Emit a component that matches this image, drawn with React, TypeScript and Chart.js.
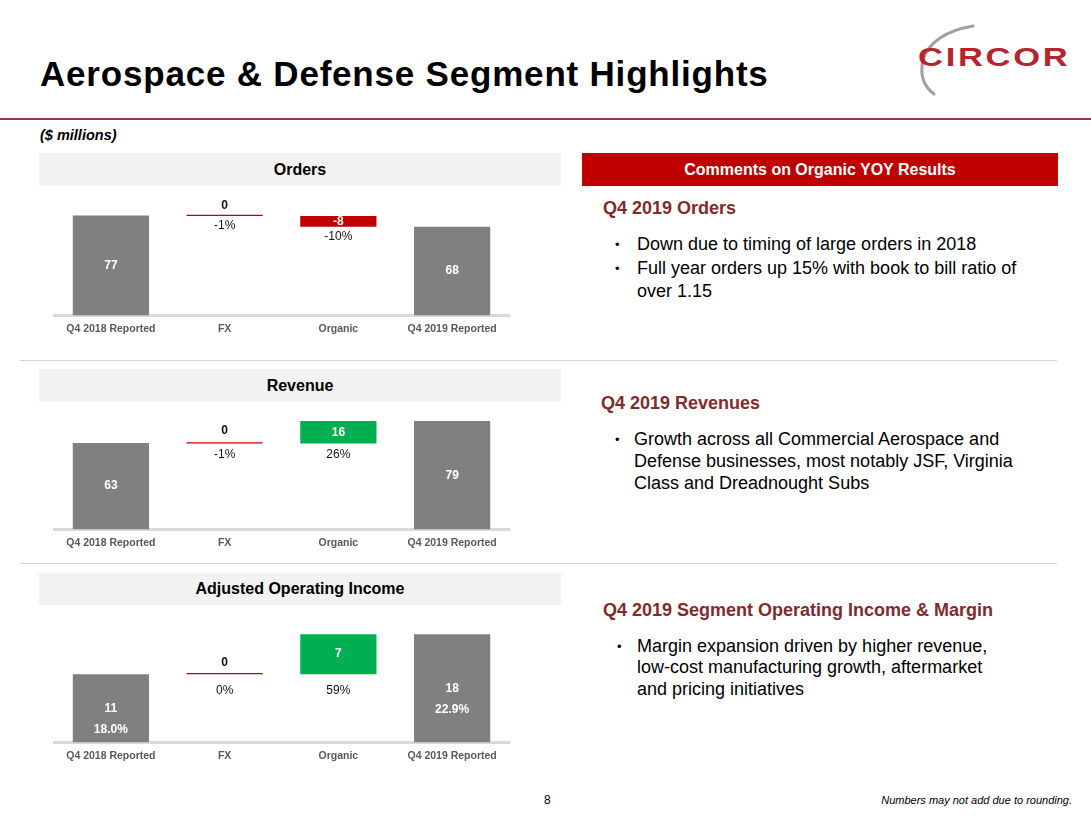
import React, { useEffect, useRef } from "react";
import { Chart, registerables } from "chart.js";

Chart.register(...registerables);

// ---------- data ----------
const categories = ["Q4 2018 Reported", "FX", "Organic", "Q4 2019 Reported"];
const stepKinds = ["total", "delta", "delta", "total"];

const ordersValues = [77.2, -0.5, -8.2, 68.5];
const ordersLabels = ["77", "0", "-8", "68"];
const ordersPct = ["", "-1%", "-10%", ""];

const revenueValues = [63.0, -0.4, 16.3, 78.9];
const revenueLabels = ["63", "0", "16", "79"];
const revenuePct = ["", "-1%", "26%", ""];

const aoiValues = [11.4, 0.0, 6.7, 18.1];
const aoiLabels = ["11", "0", "7", "18"];
const aoiPct = ["18.0%", "0%", "59%", "22.9%"];

const FONT = '"Liberation Sans", Arial, Helvetica, sans-serif';
Chart.defaults.font.family = FONT;

const labelPlugin = {
  id: "wfLabels",
  afterDatasetsDraw(chart: any, _args: any, opts: any) {
    const { ctx } = chart;
    const meta = chart.getDatasetMeta(0);
    ctx.save();
    ctx.textAlign = "center";
    ctx.textBaseline = "middle";
    meta.data.forEach((el: any, i: number) => {
      const p = el.getProps(["x", "y", "base"], true);
      const top = Math.min(p.y, p.base);
      const bottom = Math.max(p.y, p.base);
      const h = bottom - top;
      const lab = opts.labels[i];
      const pct = opts.pcts[i];
      if (stepKinds[i] === "total") {
        const c = (top + bottom) / 2;
        ctx.fillStyle = "#ffffff";
        ctx.font = `bold 12px ${FONT}`;
        ctx.fillText(lab, p.x, c);
        if (pct) ctx.fillText(pct, p.x, c + 21);
      } else if (h > 6) {
        ctx.fillStyle = "#ffffff";
        ctx.font = `bold 12px ${FONT}`;
        ctx.fillText(lab, p.x, (top + bottom) / 2);
        ctx.fillStyle = "#111111";
        ctx.font = `12px ${FONT}`;
        if (pct) ctx.fillText(pct, p.x, bottom + opts.pctGap);
      } else {
        ctx.fillStyle = "#111111";
        ctx.font = `bold 12px ${FONT}`;
        ctx.fillText(lab, p.x, top - opts.aboveGap);
        ctx.font = `12px ${FONT}`;
        if (pct) ctx.fillText(pct, p.x, bottom + opts.pctGap);
      }
    });
    ctx.restore();
  },
};

type WFProps = {
  values: number[];
  labels: string[];
  pcts: string[];
  yMax: number;
  areaTop: number;
  areaH: number;
  pctGap: number;
  aboveGap: number;
};

function Waterfall({ values, labels, pcts, yMax, areaTop, areaH, pctGap, aboveGap }: WFProps) {
  const ref = useRef<HTMLCanvasElement>(null);
  const W = 480;
  const H = areaH + 30;
  useEffect(() => {
    let cum = 0;
    const floating = values.map((v, i) => {
      if (stepKinds[i] === "total") {
        cum = v;
        return [0, v];
      }
      const s = cum;
      cum = cum + v;
      return [s, cum];
    });
    const colors = values.map((v, i) =>
      stepKinds[i] === "total" ? "#808080" : v > 0 ? "#00B050" : "#C00000"
    );
    const chart = new Chart(ref.current!, {
      type: "bar",
      data: {
        labels: categories,
        datasets: [
          {
            data: floating as any,
            backgroundColor: colors,
            borderWidth: 0,
            barPercentage: 0.67,
            categoryPercentage: 1,
            minBarLength: 1.2,
          },
        ],
      },
      options: {
        responsive: false,
        devicePixelRatio: 1,
        animation: false,
        layout: { padding: { left: 10, right: 15, top: 0, bottom: 3 } },
        plugins: {
          legend: { display: false },
          tooltip: { enabled: false },
          wfLabels: { labels, pcts, pctGap, aboveGap },
        } as any,
        scales: {
          x: {
            grid: { display: false, drawTicks: false },
            border: { display: true, color: "#D9D9D9", width: 3 },
            ticks: {
              color: "#595959",
              padding: 7,
              font: { size: 10.5, weight: "bold", family: FONT },
            },
          },
          y: { display: false, min: 0, max: yMax },
        },
      },
      plugins: [labelPlugin],
    });
    return () => chart.destroy();
  }, []);
  return (
    <canvas
      ref={ref}
      width={W}
      height={H}
      style={{ position: "absolute", left: 44, top: areaTop, width: W, height: H }}
    />
  );
}

function T(props: {
  x: number;
  y: number;
  size: number;
  children: any;
  bold?: boolean;
  italic?: boolean;
  color?: string;
  ls?: number;
  align?: "left" | "right" | "center";
}) {
  const lh = Math.round(props.size * 1.3);
  const style: any = {
    position: "absolute",
    top: props.y - lh / 2,
    lineHeight: lh + "px",
    fontSize: props.size,
    fontWeight: props.bold ? "bold" : "normal",
    fontStyle: props.italic ? "italic" : "normal",
    color: props.color || "#000",
    whiteSpace: "nowrap",
    letterSpacing: props.ls ? props.ls + "px" : undefined,
  };
  if (props.align === "right") style.right = 1091 - props.x;
  else style.left = props.x;
  return <div style={style}>{props.children}</div>;
}

function Bar(props: { x: number; y: number; w: number; h: number; bg: string; text: string; color: string }) {
  return (
    <div
      style={{
        position: "absolute",
        left: props.x,
        top: props.y,
        width: props.w,
        height: props.h,
        background: props.bg,
        color: props.color,
        fontWeight: "bold",
        fontSize: 16,
        display: "flex",
        alignItems: "center",
        justifyContent: "center",
      }}
    >
      {props.text}
    </div>
  );
}

const HEAD = "#812B2D";

function Bullet({ x, y }: { x: number; y: number }) {
  return (
    <T x={x} y={y} size={13}>
      •
    </T>
  );
}

export default function App() {
  return (
    <div
      style={{
        position: "absolute",
        left: 0,
        top: 0,
        width: 1091,
        height: 819,
        background: "#fff",
        overflow: "hidden",
        fontFamily: FONT,
      }}
    >
      <T x={40} y={74} size={35} bold ls={0.8}>
        Aerospace &amp; Defense Segment Highlights
      </T>
      {/* logo */}
      <svg style={{ position: "absolute", left: 0, top: 0 }} width={1091} height={120}>
        <path d="M 973 26 Q 932 33 923 60 Q 918 82 934 94" fill="none" stroke="#A0A0A0" strokeWidth={3} strokeLinecap="round" />
      </svg>
      <div
        style={{
          position: "absolute",
          left: 918,
          top: 41,
          fontSize: 26,
          fontWeight: "bold",
          lineHeight: "33px",
          color: "#B5252F",
          letterSpacing: "2px",
          transform: "scaleX(1.33)",
          transformOrigin: "left center",
          whiteSpace: "nowrap",
        }}
      >
        CIRCOR
      </div>
      <div style={{ position: "absolute", left: 0, top: 118, width: 1091, height: 2, background: "#8E3B4B" }} />
      <T x={40} y={135} size={14.5} bold italic>
        ($ millions)
      </T>

      {/* left headers */}
      <Bar x={39} y={153} w={522} h={33} bg="#F2F2F2" text="Orders" color="#000" />
      <Bar x={39} y={369} w={522} h={33} bg="#F2F2F2" text="Revenue" color="#000" />
      <Bar x={39} y={573} w={522} h={32} bg="#F2F2F2" text="Adjusted Operating Income" color="#000" />
      <Bar x={582} y={153} w={476} h={33} bg="#C00000" text="Comments on Organic YOY Results" color="#fff" />

      {/* separators */}
      <div style={{ position: "absolute", left: 20, top: 360, width: 1037, height: 1, background: "#D4D4D4" }} />
      <div style={{ position: "absolute", left: 20, top: 563, width: 1037, height: 1, background: "#D4D4D4" }} />

      <Waterfall values={ordersValues} labels={ordersLabels} pcts={ordersPct} yMax={92.2} areaTop={196} areaH={119} pctGap={10} aboveGap={9} />
      <Waterfall values={revenueValues} labels={revenueLabels} pcts={revenuePct} yMax={85.5} areaTop={412} areaH={117} pctGap={11.5} aboveGap={11.5} />
      <Waterfall values={aoiValues} labels={aoiLabels} pcts={aoiPct} yMax={21.3} areaTop={615} areaH={127} pctGap={16} aboveGap={10} />

      {/* right side comments */}
      <T x={603} y={208} size={18} bold color={HEAD}>Q4 2019 Orders</T>
      <Bullet x={615} y={244} />
      <T x={637} y={244} size={18}>Down due to timing of large orders in 2018</T>
      <Bullet x={615} y={268} />
      <T x={637} y={268} size={18}>Full year orders up 15% with book to bill ratio of</T>
      <T x={637} y={291.5} size={18}>over 1.15</T>

      <T x={601} y={403} size={18} bold color={HEAD}>Q4 2019 Revenues</T>
      <Bullet x={615} y={439} />
      <T x={634} y={439} size={18}>Growth across all Commercial Aerospace and</T>
      <T x={634} y={461} size={18}>Defense businesses, most notably JSF, Virginia</T>
      <T x={634} y={483} size={18}>Class and Dreadnought Subs</T>

      <T x={603} y={610} size={18} bold color={HEAD}>Q4 2019 Segment Operating Income &amp; Margin</T>
      <Bullet x={617} y={646} />
      <T x={637} y={646} size={18}>Margin expansion driven by higher revenue,</T>
      <T x={637} y={667.5} size={18}>low-cost manufacturing growth, aftermarket</T>
      <T x={637} y={689.5} size={18}>and pricing initiatives</T>

      {/* footer */}
      <T x={544} y={800} size={12}>8</T>
      <T x={1072} y={800} size={11} italic align="right">Numbers may not add due to rounding.</T>
    </div>
  );
}
